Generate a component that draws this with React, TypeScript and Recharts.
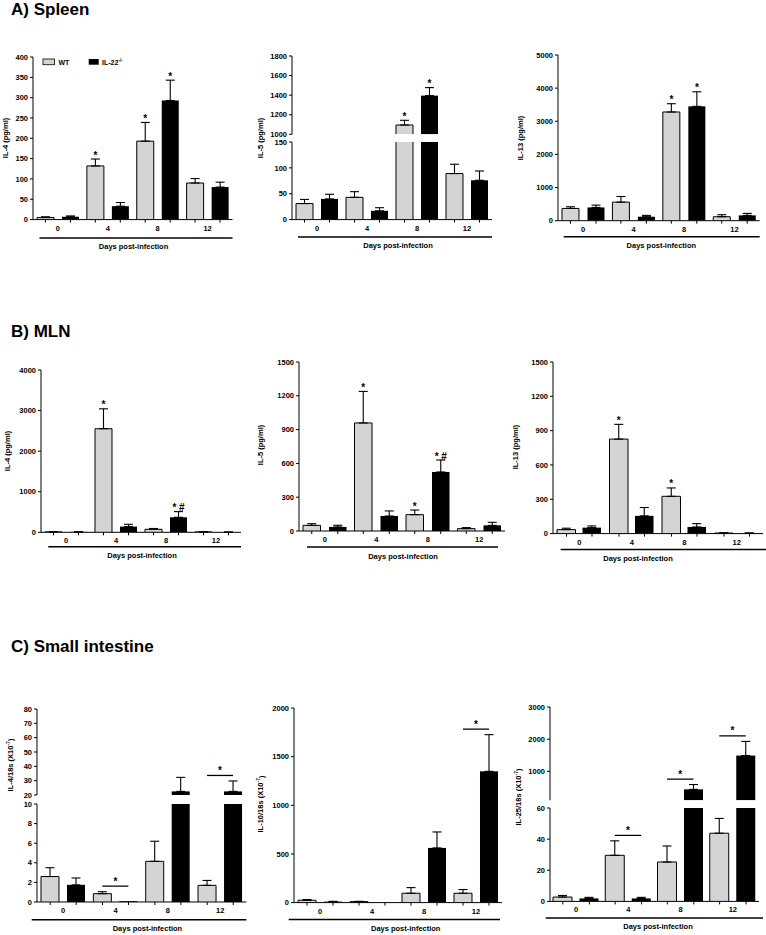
import React from 'react';
import { BarChart, Bar, XAxis, YAxis, ErrorBar } from 'recharts';

const days = ['0', '4', '8', '12'];

// A) Spleen, pg/ml
const spleenIl4Wt = [5, 132, 193, 90];
const spleenIl4WtSem = [2, 17, 46, 11];
const spleenIl4Ko = [7, 33, 293, 80];
const spleenIl4KoSem = [2, 9, 50, 12];
const spleenIl4WtMark = ['', '*', '*', ''];
const spleenIl4KoMark = ['', '', '*', ''];
const spleenIl4Ticks = [0, 50, 100, 150, 200, 250, 300, 350, 400];

const spleenIl5Wt = [31, 43, 1095, 89];
const spleenIl5WtSem = [8, 11, 48, 18];
const spleenIl5Ko = [40, 17, 1395, 76];
const spleenIl5KoSem = [9, 6, 82, 18];
const spleenIl5WtMark = ['', '', '*', ''];
const spleenIl5KoMark = ['', '', '*', ''];
const spleenIl5TicksHigh = [1000, 1200, 1400, 1600, 1800];
const spleenIl5TicksLow = [0, 50, 100, 150];

const spleenIl13Wt = [370, 560, 3280, 120];
const spleenIl13WtSem = [50, 170, 250, 60];
const spleenIl13Ko = [400, 120, 3450, 160];
const spleenIl13KoSem = [70, 40, 440, 60];
const spleenIl13WtMark = ['', '', '*', ''];
const spleenIl13KoMark = ['', '', '*', ''];
const spleenIl13Ticks = [0, 1000, 2000, 3000, 4000, 5000];

// B) MLN, pg/ml
const mlnIl4Wt = [10, 2553, 74, 10];
const mlnIl4WtSem = [4, 490, 20, 3];
const mlnIl4Ko = [10, 140, 370, 5];
const mlnIl4KoSem = [4, 57, 140, 2];
const mlnIl4WtMark = ['', '*', '', ''];
const mlnIl4KoMark = ['', '', '* #', ''];
const mlnIl4Ticks = [0, 1000, 2000, 3000, 4000];

const mlnIl5Wt = [50, 959, 145, 21];
const mlnIl5WtSem = [15, 280, 41, 9];
const mlnIl5Ko = [36, 133, 524, 50];
const mlnIl5KoSem = [15, 45, 106, 27];
const mlnIl5WtMark = ['', '*', '*', ''];
const mlnIl5KoMark = ['', '', '* #', ''];
const mlnIl5Ticks = [0, 300, 600, 900, 1200, 1500];

const mlnIl13Wt = [35, 826, 326, 5];
const mlnIl13WtSem = [12, 129, 73, 2];
const mlnIl13Ko = [52, 155, 58, 4];
const mlnIl13KoSem = [15, 73, 29, 2];
const mlnIl13WtMark = ['', '*', '*', ''];
const mlnIl13Ticks = [0, 300, 600, 900, 1200, 1500];

// C) Small intestine, ratio to 18s (x10^-7)
const siIl4Wt = [2.6, 0.85, 4.15, 1.7];
const siIl4WtSem = [0.9, 0.2, 2.05, 0.5];
const siIl4Ko = [1.75, 0.08, 22.5, 22.5];
const siIl4KoSem = [0.7, 0, 9.8, 7.3];
const siIl4Sig = ['', '*', '', '*'];
const siIl4TicksHigh = [20, 30, 40, 50, 60, 70, 80];
const siIl4TicksLow = [0, 2, 4, 6, 8, 10];

const siIl10Wt = [24, 10, 96, 96];
const siIl10WtSem = [7, 3, 58, 38];
const siIl10Ko = [10, 0, 562, 1349];
const siIl10KoSem = [3, 0, 164, 377];
const siIl10Sig = ['', '', '', '*'];
const siIl10Ticks = [0, 500, 1000, 1500, 2000];

const siIl25Wt = [2.8, 29.6, 25.3, 43.8];
const siIl25WtSem = [1, 9.3, 10.3, 9.5];
const siIl25Ko = [1.9, 1.9, 440, 1490];
const siIl25KoSem = [0.7, 0.7, 150, 440];
const siIl25Sig = ['', '*', '*', '*'];
const siIl25TicksHigh = [1000, 2000, 3000];
const siIl25TicksLow = [0, 20, 40, 60];

const FONT = '"Liberation Sans", Arial, Helvetica, sans-serif';
const WT_FILL = '#d4d4d4';
const YW = 40;
const MT = 8;
const MR = 8;
const XH = 36;
const MB_UPPER = 7;

type Seg = { domain: [number, number]; ticks: number[]; top: number; bottom: number };
type Panel = {
  wt: number[];
  wtErr: number[];
  ko: number[];
  koErr: number[];
  wtMark?: string[];
  koMark?: string[];
  sig?: string[];
  left: number;
  right: number;
  segs: Seg[];
  barSize: number;
  barGap: number;
  days: { from: number; to: number; dy: number; dx: number };
};

const panels: Panel[] = [
  {
    wt: spleenIl4Wt, wtErr: spleenIl4WtSem, ko: spleenIl4Ko, koErr: spleenIl4KoSem,
    wtMark: spleenIl4WtMark, koMark: spleenIl4KoMark,
    left: 32.5, right: 232, barSize: 17, barGap: 8,
    segs: [{ domain: [0, 400], ticks: spleenIl4Ticks, top: 56.7, bottom: 219.3 }],
    days: { from: 6.5, to: 0, dy: 18.4, dx: 0.8 },
  },
  {
    wt: spleenIl5Wt, wtErr: spleenIl5WtSem, ko: spleenIl5Ko, koErr: spleenIl5KoSem,
    wtMark: spleenIl5WtMark, koMark: spleenIl5KoMark,
    left: 291.7, right: 491.7, barSize: 17, barGap: 8,
    segs: [
      { domain: [1000, 1800], ticks: spleenIl5TicksHigh, top: 56, bottom: 134.3 },
      { domain: [0, 150], ticks: spleenIl5TicksLow, top: 141.7, bottom: 219.3 },
    ],
    days: { from: 6, to: 0, dy: 17.4, dx: 6 },
  },
  {
    wt: spleenIl13Wt, wtErr: spleenIl13WtSem, ko: spleenIl13Ko, koErr: spleenIl13KoSem,
    wtMark: spleenIl13WtMark, koMark: spleenIl13KoMark,
    left: 558.3, right: 760, barSize: 17, barGap: 8.5,
    segs: [{ domain: [0, 5000], ticks: spleenIl13Ticks, top: 55, bottom: 220.7 }],
    days: { from: 5.7, to: 0, dy: 16, dx: 2.5 },
  },
  {
    wt: mlnIl4Wt, wtErr: mlnIl4WtSem, ko: mlnIl4Ko, koErr: mlnIl4KoSem,
    wtMark: mlnIl4WtMark, koMark: mlnIl4KoMark,
    left: 40.7, right: 240.7, barSize: 17, barGap: 8,
    segs: [{ domain: [0, 4000], ticks: mlnIl4Ticks, top: 370, bottom: 532.3 }],
    days: { from: 7.3, to: 0, dy: 14.4, dx: 1 },
  },
  {
    wt: mlnIl5Wt, wtErr: mlnIl5WtSem, ko: mlnIl5Ko, koErr: mlnIl5KoSem,
    wtMark: mlnIl5WtMark, koMark: mlnIl5KoMark,
    left: 299, right: 505, barSize: 17.5, barGap: 8.5,
    segs: [{ domain: [0, 1500], ticks: mlnIl5Ticks, top: 361.7, bottom: 530.7 }],
    days: { from: 8, to: -7, dy: 16, dx: 1 },
  },
  {
    wt: mlnIl13Wt, wtErr: mlnIl13WtSem, ko: mlnIl13Ko, koErr: mlnIl13KoSem,
    wtMark: mlnIl13WtMark,
    left: 553.3, right: 763.3, barSize: 18.5, barGap: 7,
    segs: [{ domain: [0, 1500], ticks: mlnIl13Ticks, top: 361.7, bottom: 533.3 }],
    days: { from: 7.7, to: 3, dy: 16, dx: -20 },
  },
  {
    wt: siIl4Wt, wtErr: siIl4WtSem, ko: siIl4Ko, koErr: siIl4KoSem, sig: siIl4Sig,
    left: 37.3, right: 246.7, barSize: 18, barGap: 8,
    segs: [
      { domain: [20, 80], ticks: siIl4TicksHigh, top: 709.3, bottom: 795.3 },
      { domain: [0, 10], ticks: siIl4TicksLow, top: 804.3, bottom: 902.3 },
    ],
    days: { from: -5.3, to: 0, dy: 17.7, dx: 5.7 },
  },
  {
    wt: siIl10Wt, wtErr: siIl10WtSem, ko: siIl10Ko, koErr: siIl10KoSem, sig: siIl10Sig,
    left: 294.3, right: 502.3, barSize: 18, barGap: 8,
    segs: [{ domain: [0, 2000], ticks: siIl10Ticks, top: 707.7, bottom: 902.3 }],
    days: { from: -5.3, to: -2, dy: 17, dx: 7.7 },
  },
  {
    wt: siIl25Wt, wtErr: siIl25WtSem, ko: siIl25Ko, koErr: siIl25KoSem, sig: siIl25Sig,
    left: 550, right: 759, barSize: 19, barGap: 7.5,
    segs: [
      { domain: [100, 3000], ticks: siIl25TicksHigh, top: 706.7, bottom: 800 },
      { domain: [0, 60], ticks: siIl25TicksLow, top: 808.3, bottom: 901.7 },
    ],
    days: { from: -4.3, to: 4, dy: 16.6, dx: 3.5 },
  },
];

const yLabels = [
  { x: 5, y: 138, text: 'IL-4 (pg/ml)' },
  { x: 260.7, y: 138, text: 'IL-5 (pg/ml)' },
  { x: 520, y: 138, text: 'IL-13 (pg/ml)' },
  { x: 7, y: 451, text: 'IL-4 (pg/ml)' },
  { x: 260, y: 445, text: 'IL-5 (pg/ml)' },
  { x: 515, y: 447, text: 'IL-13 (pg/ml)' },
  { x: 10, y: 765, text: 'IL-4/18s (X10', sup: '-7' },
  { x: 260.7, y: 804, text: 'IL-10/18s (X10', sup: '-7' },
  { x: 518, y: 797, text: 'IL-25/18s (X10', sup: '-7' },
];

function XTick({ x, y, payload, off }: any) {
  return (
    <g>
      <line x1={x - off} x2={x - off} y1={y} y2={y + 3} stroke="#000" strokeWidth={1} />
      <line x1={x + off} x2={x + off} y1={y} y2={y + 3} stroke="#000" strokeWidth={1} />
      <text x={x} y={y + 11} textAnchor="middle" fontSize={7.5} fontWeight={700} fill="#000">
        {payload.value}
      </text>
    </g>
  );
}

function Segment({ p, seg, bottom }: { p: Panel; seg: Seg; bottom: boolean }) {
  const [lo, hi] = seg.domain;
  const plotW = p.right - p.left;
  const plotH = seg.bottom - seg.top;
  const ppu = plotH / (hi - lo);
  const inside = (v: number) => v >= lo && v <= hi;
  const mb = bottom ? 0 : MB_UPPER;
  const width = YW + plotW + MR;
  const height = MT + plotH + (bottom ? XH : 0) + mb;

  const rows = days.map((day, i) => ({
    day,
    wt: bottom || p.wt[i] > lo ? p.wt[i] : null,
    ko: bottom || p.ko[i] > lo ? p.ko[i] : null,
    wtErr: inside(p.wt[i]) && p.wtErr[i] > 0 ? [0, p.wtErr[i]] : null,
    koErr: inside(p.ko[i]) && p.koErr[i] > 0 ? [0, p.koErr[i]] : null,
  }));

  const drawBar = (series: 'wt' | 'ko') => (props: any) => {
    const { x, y, width: w, height: h0 } = props;
    const day = props.payload?.day ?? props.day;
    const i = days.indexOf(day);
    const v = series === 'wt' ? p.wt[i] : p.ko[i];
    const e = series === 'wt' ? p.wtErr[i] : p.koErr[i];
    const mark = (series === 'wt' ? p.wtMark : p.koMark)?.[i];
    const cx = x + w / 2;
    const h = Math.max(h0 || 0, 0);
    let bracket = null;
    if (series === 'ko' && p.sig?.[i]) {
      const top = Math.max(p.wt[i] + p.wtErr[i], p.ko[i] + p.koErr[i]);
      if (inside(top)) {
        const ly = y - (top - v) * ppu - 5.5;
        const wx = cx - (p.barSize + p.barGap);
        bracket = (
          <g>
            <line x1={wx} x2={cx} y1={ly} y2={ly} stroke="#000" strokeWidth={1.3} />
            <text x={(wx + cx) / 2} y={ly - 1.5} textAnchor="middle" fontSize={10} fontWeight={700} fill="#000">
              {p.sig[i]}
            </text>
          </g>
        );
      }
    }
    return (
      <g>
        {series === 'wt' ? (
          <g>
            <rect x={x} y={y} width={w} height={h} fill={WT_FILL} />
            <path d={`M${x},${y + h}V${y}H${x + w}V${y + h}`} fill="none" stroke="#000" strokeWidth={1} />
          </g>
        ) : (
          <rect x={x} y={y} width={w} height={h} fill="#000" />
        )}
        {mark && inside(v + e) ? (
          <text x={cx} y={y - e * ppu - 0.5} textAnchor="middle" fontSize={10} fontWeight={700} fill="#000">
            {mark}
          </text>
        ) : null}
        {bracket}
      </g>
    );
  };

  const daysLabel = (lp: any) => {
    const vb = lp.viewBox || {};
    const ly = vb.y + p.days.dy;
    return (
      <g>
        <line
          x1={vb.x + p.days.from}
          x2={vb.x + vb.width + p.days.to}
          y1={ly}
          y2={ly}
          stroke="#000"
          strokeWidth={1.5}
        />
        <text x={vb.x + vb.width / 2 + p.days.dx} y={ly + 11.5} textAnchor="middle" fontSize={7.5} fontWeight={700} fill="#000">
          Days post-infection
        </text>
      </g>
    );
  };

  return (
    <div style={{ position: 'absolute', left: p.left - YW, top: seg.top - MT, width, height }}>
      <BarChart
        width={width}
        height={height}
        data={rows}
        margin={{ top: MT, right: MR, bottom: mb, left: 0 }}
        barSize={p.barSize}
        barGap={p.barGap}
      >
        <XAxis
          dataKey="day"
          hide={!bottom}
          height={XH}
          interval={0}
          axisLine={{ stroke: '#000', strokeWidth: 1 }}
          tickLine={false}
          tickSize={0}
          tickMargin={0}
          tick={(tp: any) => <XTick {...tp} off={(p.barSize + p.barGap) / 2} />}
          label={daysLabel}
        />
        <YAxis
          type="number"
          domain={seg.domain}
          ticks={seg.ticks}
          interval={0}
          allowDataOverflow
          width={YW}
          tickSize={3}
          tickMargin={2}
          axisLine={{ stroke: '#000', strokeWidth: 1 }}
          tickLine={{ stroke: '#000', strokeWidth: 1 }}
          tick={{ fill: '#000', fontSize: 7.5, fontWeight: 700 }}
        />
        <Bar dataKey="wt" name="WT" shape={drawBar('wt')} isAnimationActive={false}>
          <ErrorBar dataKey="wtErr" direction="y" width={4.5} stroke="#000" strokeWidth={1.1} />
        </Bar>
        <Bar dataKey="ko" name="IL-22-/-" shape={drawBar('ko')} isAnimationActive={false}>
          <ErrorBar dataKey="koErr" direction="y" width={4.5} stroke="#000" strokeWidth={1.1} />
        </Bar>
      </BarChart>
    </div>
  );
}

export default function App() {
  return (
    <div
      style={{
        position: 'absolute',
        left: 0,
        top: 0,
        width: 766,
        height: 935,
        background: '#fff',
        fontFamily: FONT,
        overflow: 'hidden',
      }}
    >
      {panels.map((p, pi) =>
        p.segs.map((seg, si) => (
          <Segment key={`${pi}-${si}`} p={p} seg={seg} bottom={si === p.segs.length - 1} />
        ))
      )}
      <svg
        width={766}
        height={935}
        style={{ position: 'absolute', left: 0, top: 0, pointerEvents: 'none' }}
        fontFamily={FONT}
      >
        <text x={11} y={14.5} fontSize={17} fontWeight={700}>A) Spleen</text>
        <text x={11} y={336.5} fontSize={17} fontWeight={700}>B) MLN</text>
        <text x={11} y={651.5} fontSize={17} fontWeight={700}>C) Small intestine</text>

        {yLabels.map((l, i) => (
          <text
            key={i}
            transform={`translate(${l.x},${l.y}) rotate(-90)`}
            textAnchor="middle"
            dominantBaseline="central"
            fontSize={7.5}
            fontWeight={700}
          >
            {l.text}
            {l.sup ? (
              <>
                <tspan dy={-2.5} fontSize={5}>{l.sup}</tspan>
                <tspan dy={2.5}>)</tspan>
              </>
            ) : null}
          </text>
        ))}

        <rect x={43} y={59} width={11.5} height={5.7} fill={WT_FILL} stroke="#000" strokeWidth={0.8} />
        <text x={58.5} y={65} fontSize={7} fontWeight={700}>WT</text>
        <rect x={88.7} y={59} width={10} height={5.7} fill="#000" />
        <text x={102} y={65} fontSize={7} fontWeight={700}>
          IL-22<tspan dy={-3} fontSize={4.5}>-/-</tspan>
        </text>
      </svg>
    </div>
  );
}
